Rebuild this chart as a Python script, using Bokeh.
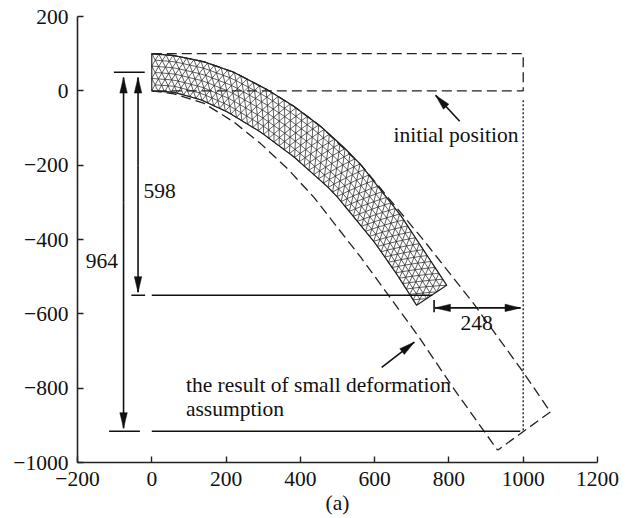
import numpy as np
from bokeh.plotting import figure
from bokeh.embed import file_html
from bokeh.resources import INLINE
from bokeh.models import FixedTicker, Range1d
from bokeh.core.properties import value

FONT = "Liberation Serif"

x_ticks = [-200, 0, 200, 400, 600, 800, 1000, 1200]
y_ticks = [-1000, -800, -600, -400, -200, 0, 200]

beam_top_x = [0, 60, 141, 221, 311, 383, 455, 517, 562, 670, 794]
beam_top_y = [100, 95, 78, 50, 3, -42, -96, -152, -198, -335, -523]
beam_bot_x = [0, 60, 132, 204, 293, 383, 473, 500, 600, 660, 713]
beam_bot_y = [0, -4, -24, -57, -111, -178, -258, -286, -408, -494, -577]

init_x = [0, 1000, 1000, 0]
init_y = [100, 100, 0, 0]

small_top_x = [0, 60, 141, 221, 311, 383, 455, 562, 732, 866, 1000, 1073]
small_top_y = [100, 95, 78, 50, 3, -42, -96, -198, -402, -572, -757, -864]
small_bot_x = [0, 60, 141, 221, 293, 365, 436, 562, 719, 812, 931]
small_bot_y = [0, -8, -34, -84, -142, -209, -286, -447, -662, -800, -967]
small_end_x = [1073, 931]
small_end_y = [-864, -967]

dotted_x = [1000, 1000]
dotted_y = [-25, -915]

# (x0, x1, y0, y1) for the plain dimension rules
rules = [
    (-102, -19, 50, 50),
    (-55, -18, -550, -550),
    (0, 755, -550, -550),
    (-115, -32, -916, -916),
    (0, 992, -916, -916),
    (760, 760, -563, -596),
]
# (tail x, tail y, tip x, tip y)
arrows = [
    (-76, -300, -76, 36),
    (-76, -300, -76, -908),
    (-37, -200, -37, 36),
    (-37, -200, -37, -542),
    (880, -584, 762, -584),
    (880, -584, 993, -584),
    (829, -82, 764, -12),
    (619, -744, 707, -676),
]

label_text = ["initial position", "the result of small deformation", "assumption", "598", "964", "248"]
label_x = [651, 92, 92, -22, -178, 831]
label_y = [-120, -792, -857, -269, -459, -626]

W, H = 629, 518
FL, FR, FT, FB = 77, 32, 16, 56   # borders around the plot frame

p = figure(width=W, height=H, output_backend="svg", toolbar_location=None,
           x_range=Range1d(-200, 1200), y_range=Range1d(-1000, 200),
           min_border_left=FL, min_border_right=FR, min_border_top=FT, min_border_bottom=FB)
p.outline_line_color = None
p.grid.visible = False

for ax, ticks in ((p.xaxis[0], x_ticks), (p.yaxis[0], y_ticks)):
    ax.ticker = FixedTicker(ticks=ticks)
    ax.major_label_overrides = {t: str(t).replace("-", "\u2212") for t in ticks}
    ax.major_tick_in = 6
    ax.major_tick_out = 0
    ax.minor_tick_line_color = None
    ax.axis_line_width = 1.6
    ax.axis_line_color = "#222222"
    ax.major_tick_line_width = 1.4
    ax.major_tick_line_color = "#222222"
    ax.major_label_text_font = FONT
    ax.major_label_text_font_size = "21.5px"
    ax.major_label_text_color = "#111111"
p.xaxis[0].axis_label = "(a)"
p.xaxis[0].axis_label_text_font = FONT
p.xaxis[0].axis_label_text_font_style = "normal"
p.xaxis[0].axis_label_text_font_size = "21.5px"
p.xaxis[0].axis_label_text_color = "#111111"
p.xaxis[0].axis_label_standoff = 2
p.xaxis[0].major_label_standoff = 9
p.yaxis[0].major_label_standoff = 9


def resample(xs, ys, n):
    xs, ys = np.asarray(xs, float), np.asarray(ys, float)
    s = np.r_[0, np.cumsum(np.hypot(np.diff(xs), np.diff(ys)))]
    t = np.linspace(0, s[-1], n)
    return np.interp(t, s, xs), np.interp(t, s, ys)


# triangular mesh spanned between the two beam edges
NX, NY = 110, 6
tx, ty = resample(beam_top_x, beam_top_y, NX + 1)
bx, by = resample(beam_bot_x, beam_bot_y, NX + 1)


def node(i, j):
    f = j / NY
    return tx[i] * (1 - f) + bx[i] * f, ty[i] * (1 - f) + by[i] * f


mx, my = [], []
for j in range(NY + 1):
    start = 0 if j % 2 == 0 else 1
    idx = list(range(start, NX + 1, 2))
    pts = [node(i, j) for i in idx]
    mx.append([q[0] for q in pts])
    my.append([q[1] for q in pts])
for j in range(NY):
    for i in range(0, NX + 1):
        if (i + j) % 2 == 0:
            for di in (-1, 1):
                if 0 <= i + di <= NX:
                    a, b = node(i, j), node(i + di, j + 1)
                    mx.append([a[0], b[0]])
                    my.append([a[1], b[1]])
p.multi_line(mx, my, line_color="#222222", line_width=0.8, line_alpha=0.9)
p.patch(list(tx) + list(bx[::-1]), list(ty) + list(by[::-1]),
        fill_color=None, line_color="#222222", line_width=1.2)

# dashed outlines
DASH = "10 5"
p.line(init_x, init_y, line_color="#222222", line_width=1.3, line_dash=DASH)
p.line(small_top_x, small_top_y, line_color="#222222", line_width=1.3, line_dash=DASH)
p.line(small_bot_x, small_bot_y, line_color="#222222", line_width=1.3, line_dash=DASH)
p.line(small_end_x, small_end_y, line_color="#222222", line_width=1.3, line_dash=DASH)
p.line(dotted_x, dotted_y, line_color="#222222", line_width=1.4, line_dash="2 2")

# rules and arrows
p.multi_line([[r[0], r[1]] for r in rules], [[r[2], r[3]] for r in rules],
             line_color="#111111", line_width=1.6)
p.multi_line([[a[0], a[2]] for a in arrows], [[a[1], a[3]] for a in arrows],
             line_color="#111111", line_width=1.6)
HL, HW = 42, 10   # head length and half width, data units
hx, hy = [], []
for x0, y0, x1, y1 in arrows:
    d = np.array([x1 - x0, y1 - y0], float)
    d /= np.hypot(*d)
    n = np.array([-d[1], d[0]])
    tip = np.array([x1, y1], float)
    base = tip - d * HL
    c1, c2 = base + n * HW, base - n * HW
    hx.append([tip[0], c1[0], c2[0]])
    hy.append([tip[1], c1[1], c2[1]])
p.patches(hx, hy, fill_color="#111111", line_color="#111111", line_width=0.5)

p.text(label_x, label_y, text=label_text, text_font=value(FONT), text_font_size="21.5px",
       text_color="#111111", text_baseline="alphabetic", text_align="left")

open("out.html", "w").write(file_html(p, INLINE))
